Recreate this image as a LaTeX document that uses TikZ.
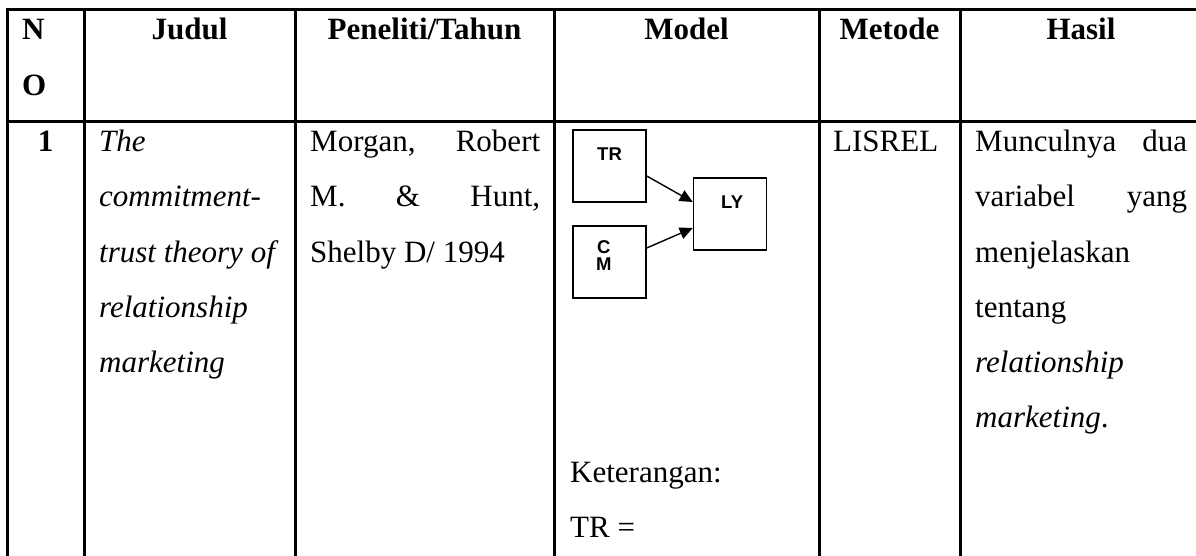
\documentclass[tikz,border=0pt]{standalone}
\usepackage{fontspec}
\setmainfont{Liberation Serif}
\newfontfamily\arialfont{Liberation Sans}
\usetikzlibrary{arrows.meta}

\tikzset{
  grid/.style={line width=3pt, line cap=rect},
  txt/.style={inner sep=0pt, anchor=base west, font=\fontsize{31}{55}\selectfont},
  head/.style={inner sep=0pt, anchor=base, font=\fontsize{31}{55}\selectfont\bfseries},
  varbox/.style={draw, line width=1.5pt, minimum width=73pt, minimum height=72pt, inner sep=0pt},
  varlbl/.style={inner sep=0pt, anchor=base west, font=\arialfont\bfseries\fontsize{18.5}{18.5}\selectfont},
  path/.style={line width=1.4pt, -{Triangle[length=13pt,width=12pt]}}
}

\begin{document}
\begin{tikzpicture}[x=1pt,y=-1pt]
\useasboundingbox (0,0) rectangle (1196,556);
\fill[white] (0,0) rectangle (1196,556);
\clip (0,0) rectangle (1196,556);

% table rules
\draw[grid] (7,10) -- (1220,10);
\draw[grid] (7,122) -- (1220,122);
\foreach \cx in {7,84,295,554,819,960}
  \draw[grid] (\cx,10) -- (\cx,580);

% header row
\node[txt, font=\fontsize{31}{55}\selectfont\bfseries] (hN) at (22,40) {N};
\node[txt, font=\fontsize{31}{55}\selectfont\bfseries] (hO) at (22,96) {O};
\node[head] (hJudul) at (189.5,40) {Judul};
\node[head] (hPeneliti) at (424.5,40) {Peneliti/Tahun};
\node[head] (hModel) at (686.5,40) {Model};
\node[head] (hMetode) at (889.5,40) {Metode};
\node[head] (hHasil) at (1081,40) {Hasil};

% row 1: number
\node[head] (no1) at (45.5,152) {1};

% row 1: title
\node[txt] (j1) at (99,152) {\itshape The};
\node[txt] (j2) at (99,207) {\itshape commitment-};
\node[txt] (j3) at (99,262) {\itshape trust theory of};
\node[txt] (j4) at (99,317) {\itshape relationship};
\node[txt] (j5) at (99,372) {\itshape marketing};

% row 1: authors / year
\node[txt] (p1) at (310,152) {\makebox[230pt][s]{Morgan, Robert}};
\node[txt] (p2) at (310,207) {\makebox[230pt][s]{M. \& Hunt,}};
\node[txt] (p3) at (310,262) {Shelby D/ 1994};

% row 1: model
\node[varbox] (tr) at (609.5,166) {};
\node[varbox] (cm) at (609.5,262) {};
\node[varbox] (ly) at (730,214) {};
\node[varlbl] (trl) at (597,161) {TR};
\node[varlbl] (cml) at (597,253) {C};
\node[varlbl] (cml2) at (596,270) {M};
\node[varlbl] (lyl) at (721,208) {LY};
\draw[path] ([yshift=-10pt]tr.east) -- ([yshift=12pt]ly.west);
\draw[path] ([yshift=14pt]cm.east) -- ([yshift=-14pt]ly.west);

\node[txt] (ket) at (570,482) {Keterangan:};
\node[txt] (ket1) at (570,537) {TR =};

% row 1: method
\node[txt] (m1) at (833,152) {LISREL};

% row 1: result
\node[txt] (r1) at (975,152) {\makebox[212pt][s]{Munculnya dua}};
\node[txt] (r2) at (975,207) {\makebox[212pt][s]{variabel yang}};
\node[txt] (r3) at (975,262) {menjelaskan};
\node[txt] (r4) at (975,317) {tentang};
\node[txt] (r5) at (975,372) {\itshape relationship};
\node[txt] (r6) at (975,427) {\textit{marketing}.};
\end{tikzpicture}
\end{document}
